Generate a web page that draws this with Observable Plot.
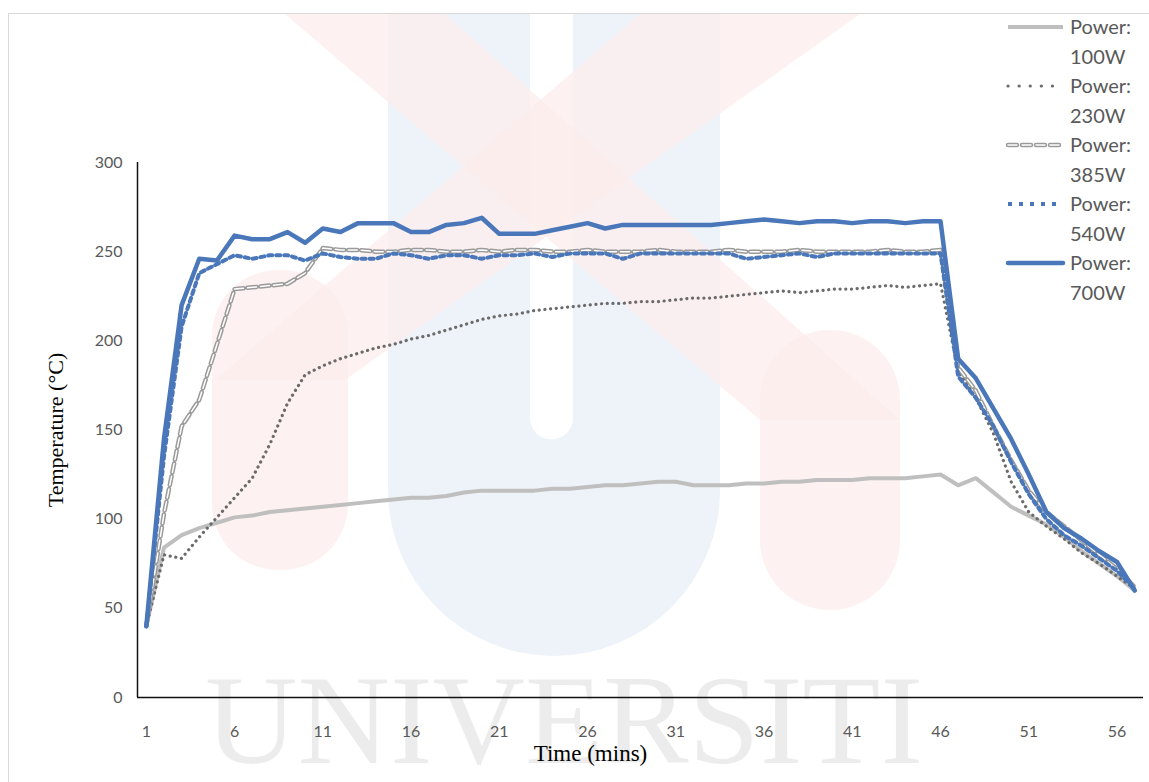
<!DOCTYPE html>
<html>
<head>
<meta charset="utf-8">
<script src="https://cdn.jsdelivr.net/npm/d3@7"></script>
<script src="https://cdn.jsdelivr.net/npm/@observablehq/plot@0.6"></script>
<style>
html,body{margin:0;padding:0;background:#fff;}
#wrap{position:relative;width:1149px;height:782px;overflow:hidden;background:#fff;}
#bg,#chart,#legend,#frame{position:absolute;left:0;top:0;}
#frame{left:8px;top:13px;width:1200px;height:800px;border-top:1px solid #d9d9d9;border-left:1px solid #d9d9d9;}
#legend{left:1000px;top:0;}
</style>
</head>
<body>
<div id="wrap">
  <svg id="bg" width="1149" height="782">
    <path d="M388,14 L720,14 L720,490 A166,166 0 0 1 388,490 Z" fill="#eef3f9"/>
    <path d="M530,14 L573,14 L573,418 A21.5,21.5 0 0 1 530,418 Z" fill="#ffffff"/>
    <g fill="#fcecec" fill-opacity="0.75">
      <path d="M285,14 L445,14 L900,420 L760,420 Z"/>
      <rect x="760" y="330" width="140" height="280" rx="70"/>
      <path d="M640,14 L860,14 L345,380 L215,380 Z"/>
      <rect x="212" y="270" width="136" height="300" rx="66"/>
    </g>
    <text x="205" y="763" font-family="'Liberation Serif','Times New Roman',serif" font-size="128" fill="#000" fill-opacity="0.075">UNIVERSITI</text>
  </svg>
  <div id="frame"></div>
  <div id="chart"></div>
  <div id="legend"></div>
</div>
<script>
// Time categories (minutes)
const minutes = [1,2,3,4,5,6,7,8,9,10,11,12,13,14,15,16,17,18,19,20,21,22,23,24,25,26,27,28,29,30,31,32,33,34,35,36,37,38,39,40,41,42,43,44,45,46,47,48,49,50,51,52,53,54,55,56,57];

// Temperature (°C) per series
const power100 = [40,84,91,95,98,101,102,104,105,106,107,108,109,110,111,112,112,113,115,116,116,116,116,117,117,118,119,119,120,121,121,119,119,119,120,120,121,121,122,122,122,123,123,123,124,125,119,123,115,107,102,97,90,82,75,68,60];
const power230 = [40,80,78,90,101,112,123,142,165,181,186,190,193,196,198,201,203,206,209,212,214,215,217,218,219,220,221,221,222,222,223,224,224,225,226,227,228,227,228,229,229,230,231,230,231,232,183,168,148,121,104,96,89,81,75,68,61];
const power385 = [40,103,152,167,198,229,230,231,232,238,252,251,251,250,250,251,251,250,250,251,250,251,251,250,250,251,250,250,250,251,250,250,250,251,250,250,250,251,250,250,250,250,251,250,250,251,185,172,152,133,116,104,96,88,80,72,62];
const power540 = [40,135,208,238,243,248,246,248,248,245,249,247,246,246,249,248,246,248,248,246,248,248,249,247,249,249,249,246,249,249,249,249,249,249,246,247,248,249,247,249,249,249,249,249,249,249,180,168,152,132,114,100,91,85,78,71,61];
const power700 = [40,145,220,246,245,259,257,257,261,255,263,261,266,266,266,261,261,265,266,269,260,260,260,262,264,266,263,265,265,265,265,265,265,266,267,268,267,266,267,267,266,267,267,266,267,267,190,179,162,145,125,104,95,89,82,76,60];

const seriesNames = ["Power: 100W","Power: 230W","Power: 385W","Power: 540W","Power: 700W"];
const xTicks = [1,6,11,16,21,26,31,36,41,46,51,56];
const yTicks = [0,50,100,150,200,250,300];
const yTitle = "Temperature (°C)";
const xTitle = "Time (mins)";

const BLUE = "#4a77b9";
const rows = (arr) => minutes.map((t, i) => ({t, v: arr[i]}));
const d100 = rows(power100), d230 = rows(power230), d385 = rows(power385), d540 = rows(power540), d700 = rows(power700);

const serif = "'Liberation Serif','Times New Roman',serif";
const sans = "Lato, 'Open Sans', sans-serif";

const chart = Plot.plot({
  width: 1149,
  height: 782,
  marginLeft: 137,
  marginRight: 6,
  marginTop: 162,
  marginBottom: 85,
  style: {background: "transparent", overflow: "visible"},
  x: {type: "linear", domain: [0.5, 57.5]},
  y: {domain: [0, 300]},
  marks: [
    Plot.axisX({ticks: xTicks, tickSize: 0, tickPadding: 28, label: null, fontSize: 16, fontFamily: sans, color: "#595959"}),
    Plot.axisY({ticks: yTicks, tickSize: 0, tickPadding: 15, label: null, fontSize: 16, fontFamily: sans, color: "#595959"}),
    Plot.line(d100, {x: "t", y: "v", stroke: "#bfbfbf", strokeWidth: 4, strokeLinejoin: "round"}),
    Plot.line(d230, {x: "t", y: "v", stroke: "#6b6b6b", strokeWidth: 3.2, strokeDasharray: "0.1 5.6", strokeLinecap: "round"}),
    Plot.line(d385, {x: "t", y: "v", stroke: "#9a9a9a", strokeWidth: 4.5, strokeDasharray: "9 4", strokeLinecap: "round"}),
    Plot.line(d385, {x: "t", y: "v", stroke: "#ffffff", strokeWidth: 1.5, strokeDasharray: "9 4", strokeLinecap: "round"}),
    Plot.line(d540, {x: "t", y: "v", stroke: BLUE, strokeWidth: 4, strokeDasharray: "4 4"}),
    Plot.line(d700, {x: "t", y: "v", stroke: BLUE, strokeWidth: 4.5, strokeLinejoin: "round"}),
    Plot.ruleY([0], {stroke: "#111", strokeWidth: 1.5}),
    Plot.ruleX([0.5], {y1: 0, y2: 300, stroke: "#111", strokeWidth: 1.5}),
    Plot.text([yTitle], {frameAnchor: "left", textAnchor: "middle", dx: -82, rotate: -90, fontFamily: serif, fontSize: 22, fill: "#000"}),
    Plot.text([xTitle], {frameAnchor: "bottom", textAnchor: "middle", dx: -50, dy: 63, fontFamily: serif, fontSize: 23, fill: "#000"})
  ]
});
document.getElementById("chart").appendChild(chart);

// Legend (top right)
const styles = [
  {stroke: "#bfbfbf", width: 4, dash: null, cap: "butt"},
  {stroke: "#6b6b6b", width: 3.2, dash: "0.1 11", cap: "round"},
  {stroke: "#9a9a9a", width: 4.5, dash: "9 5", cap: "round", core: true},
  {stroke: BLUE, width: 4, dash: "4 7", cap: "butt"},
  {stroke: BLUE, width: 4.5, dash: null, cap: "round"}
];
const leg = d3.select("#legend").append("svg").attr("width", 149).attr("height", 320);
seriesNames.forEach((name, i) => {
  const y = 27 + i * 59;
  const s = styles[i];
  const ln = leg.append("line").attr("x1", 8).attr("x2", 63).attr("y1", y).attr("y2", y)
    .attr("stroke", s.stroke).attr("stroke-width", s.width).attr("stroke-linecap", s.cap);
  if (s.dash) ln.attr("stroke-dasharray", s.dash);
  if (s.core) leg.append("line").attr("x1", 8).attr("x2", 63).attr("y1", y).attr("y2", y)
    .attr("stroke", "#fff").attr("stroke-width", 1.5).attr("stroke-dasharray", s.dash).attr("stroke-linecap", "round");
  const parts = name.split(" ");
  leg.append("text").attr("x", 70).attr("y", y).attr("dy", "0.35em")
    .attr("font-family", sans).attr("font-size", 20).attr("fill", "#595959").text(parts[0]);
  leg.append("text").attr("x", 70).attr("y", y + 30).attr("dy", "0.35em")
    .attr("font-family", sans).attr("font-size", 20).attr("fill", "#595959").text(parts[1]);
});
</script>
</body>
</html>
